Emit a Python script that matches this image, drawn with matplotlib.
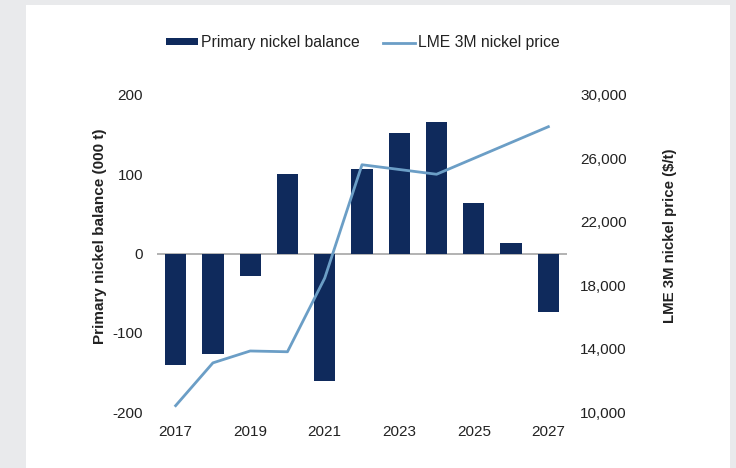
import matplotlib.pyplot as plt
from matplotlib.patches import Rectangle
from matplotlib.ticker import FuncFormatter

plt.rcParams['font.family'] = ['Liberation Sans', 'DejaVu Sans']
plt.rcParams['axes.unicode_minus'] = False

years = [2017, 2018, 2019, 2020, 2021, 2022, 2023, 2024, 2025, 2026, 2027]
balance = [-141, -127, -28, 100, -161, 107, 152, 166, 64, 13, -74]
price = [10400, 13100, 13850, 13800, 18450, 25600, 25300, 25000, 26000, 27000, 28000]

BAR_COLOR = '#0f2a5c'
LINE_COLOR = '#6b9ec6'
TEXT_COLOR = '#222222'

fig = plt.figure(figsize=(7.36, 4.68), dpi=100, facecolor='#e9eaec')
# white panel behind everything
fig.patches.append(Rectangle((26 / 736, 0), (730 - 26) / 736, 1 - 5 / 468,
                             transform=fig.transFigure, facecolor='white',
                             edgecolor='none', zorder=-10))

ax = fig.add_axes([157 / 736, 1 - 412 / 468, 410 / 736, 317 / 468])
ax.set_facecolor('none')
bars = ax.bar(years, balance, width=0.57, color=BAR_COLOR, zorder=2,
              label='Primary nickel balance')
ax.axhline(0, color='#a6a6a6', lw=1.2, zorder=1)
ax.set_xlim(2016.5, 2027.5)
ax.set_ylim(-200, 200)
ax.set_yticks([-200, -100, 0, 100, 200])
ax.set_xticks(years[::2])
for s in ax.spines.values():
    s.set_visible(False)
ax.tick_params(axis='y', length=0, pad=10, labelsize=11, labelcolor=TEXT_COLOR)
ax.tick_params(axis='x', length=0, pad=9.5, labelsize=11, labelcolor=TEXT_COLOR)
ax.set_ylabel('Primary nickel balance (000 t)', fontsize=11, fontweight='bold',
              color=TEXT_COLOR)
ax.yaxis.set_label_coords(-0.122, 0.555)

ax2 = ax.twinx()
line, = ax2.plot(years, price, color=LINE_COLOR, lw=2, zorder=3,
                 label='LME 3M nickel price')
ax2.set_ylim(10000, 30000)
ax2.set_yticks([10000, 14000, 18000, 22000, 26000, 30000])
ax2.yaxis.set_major_formatter(FuncFormatter(lambda v, p: f'{int(v):,}'))
for s in ax2.spines.values():
    s.set_visible(False)
ax2.tick_params(axis='y', length=0, pad=9.5, labelsize=11, labelcolor=TEXT_COLOR)
ax2.set_ylabel('LME 3M nickel price ($/t)', fontsize=10.8, fontweight='bold',
               color=TEXT_COLOR)
ax2.yaxis.set_label_coords(1.234, 0.555)

fig.legend([bars, line], ['Primary nickel balance', 'LME 3M nickel price'],
           loc='center', bbox_to_anchor=(363 / 736, 1 - 43 / 468), ncol=2,
           frameon=False, fontsize=11.3, handlelength=2.0, handleheight=0.32,
           handletextpad=0.2, columnspacing=1.5, labelcolor=TEXT_COLOR)

fig.savefig('out.png', dpi=100, facecolor=fig.get_facecolor())
